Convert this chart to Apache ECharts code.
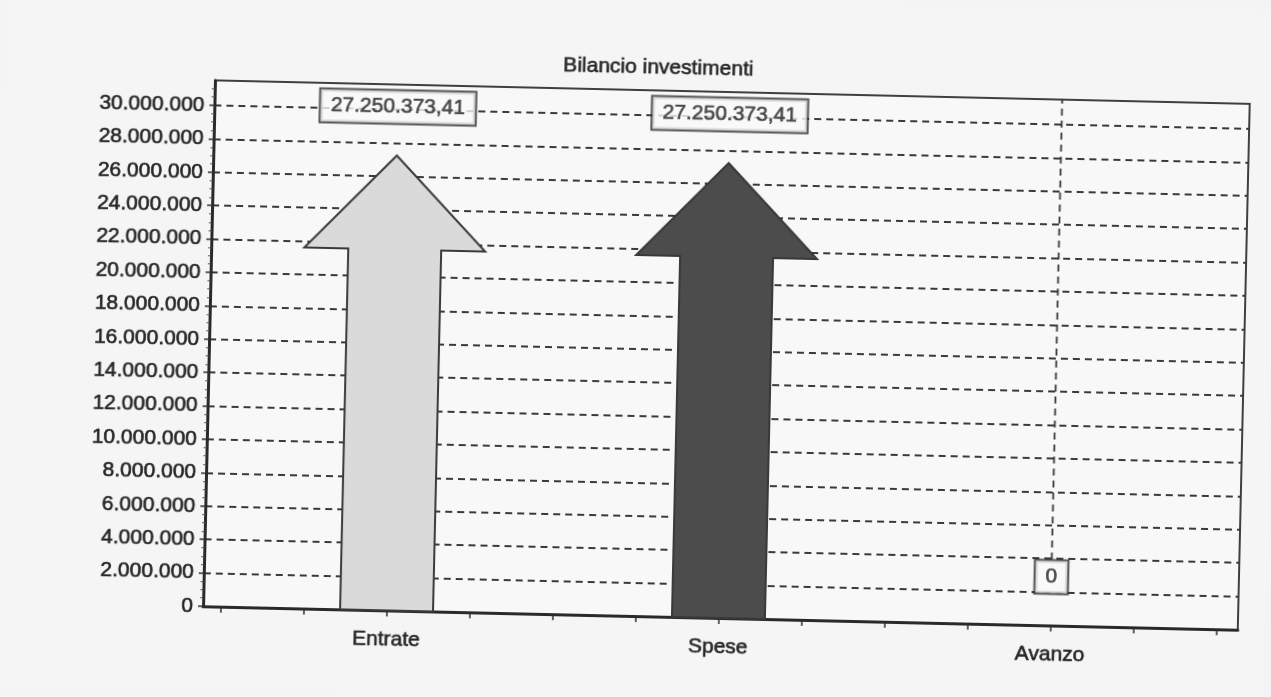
<!DOCTYPE html>
<html>
<head>
<meta charset="utf-8">
<script src="https://cdn.jsdelivr.net/npm/echarts@6/dist/echarts.min.js"></script>
<style>
  html, body { margin: 0; padding: 0; background: #f4f4f4; overflow: hidden; }
  #chart { width: 1271px; height: 697px; transform: rotate(1.3deg); transform-origin: 50% 50%; }
</style>
</head>
<body>
<div id="chart"></div>
<script>
// ---- data ----
const title = 'Bilancio investimenti';
const categories = ['Entrate', 'Spese', 'Avanzo'];
const values = [27250373.41, 27250373.41, 0];
const yTicks = [0, 2000000, 4000000, 6000000, 8000000, 10000000, 12000000, 14000000,
                16000000, 18000000, 20000000, 22000000, 24000000, 26000000, 28000000, 30000000];
const xTicks = [-0.5, -0.25, 0, 0.25, 0.5, 0.75, 1, 1.25, 1.5, 1.75, 2, 2.25, 2.5];
const xLabelPositions = [0, 1, 2];

// ---- styles ----
const arrowFill = ['#dadada', '#4c4c4c', '#9a9a9a'];
const arrowStroke = ['#3a3a3a', '#383838', '#3a3a3a'];
const FONT = '"Liberation Sans", Arial, sans-serif';
const TEXT = '#262626';
const THICK = { textBorderColor: '#262626', textBorderWidth: 0.6 };

function fmtInt(n) {
  return String(Math.round(n)).replace(/\B(?=(\d{3})+(?!\d))/g, '.');
}
function fmtIt(v) {
  const neg = v < 0; v = Math.abs(v);
  const intPart = Math.floor(v);
  const frac = Math.round((v - intPart) * 100);
  let s = fmtInt(intPart);
  if (frac > 0) s += ',' + String(frac).padStart(2, '0');
  return (neg ? '-' : '') + s;
}

const chart = echarts.init(document.getElementById('chart'), null, { renderer: 'canvas' });

function renderArrow(params, api) {
  const i = api.value(0);
  const v = api.value(1);
  const base = api.coord([i, 0]);
  const tip = api.coord([i, v]);
  const unit = api.size([1, 0])[0];
  const cx = base[0];
  const sw = unit * 0.28 / 2;
  const hw = unit * 0.545 / 2;
  if (v <= 0) {
    return {
      type: 'group',
      children: [{
        type: 'line',
        shape: { x1: cx, y1: base[1] - 66, x2: cx, y2: params.coordSys.y },
        style: { stroke: '#3a3a3a', lineWidth: 1.8, lineDash: [7, 5] }
      }]
    };
  }
  const headH = 94;
  const by = tip[1] + headH;
  return {
    type: 'group',
    children: [{
      type: 'polygon',
      shape: {
        points: [
          [cx - sw, base[1]], [cx - sw, by], [cx - hw, by], [cx, tip[1]],
          [cx + hw, by], [cx + sw, by], [cx + sw, base[1]]
        ]
      },
      style: { fill: arrowFill[params.dataIndex], stroke: arrowStroke[params.dataIndex], lineWidth: 2 }
    }]
  };
}

const pointData = values.map((v, i) => [i, v]);

chart.setOption({
  backgroundColor: '#f5f5f5',
  animation: false,
  textStyle: { fontFamily: FONT },
  title: {
    text: title,
    left: 647,
    top: 52,
    textAlign: 'center',
    textStyle: Object.assign({ fontSize: 21, fontWeight: 'normal', color: TEXT, fontFamily: FONT }, THICK)
  },
  grid: {
    left: 209, right: 27, top: 90, bottom: 81,
    show: true, borderColor: '#3f3f3f', borderWidth: 2, backgroundColor: '#f8f8f8'
  },
  xAxis: {
    type: 'value',
    min: -0.553,
    max: 2.565,
    position: 'bottom',
    splitLine: { show: false },
    axisLine: { show: true, onZero: false, lineStyle: { color: '#2a2a2a', width: 3 } },
    axisTick: { show: true, customValues: xTicks, length: 6, lineStyle: { color: '#2e2e2e', width: 1.5 } },
    axisLabel: Object.assign({
      customValues: xLabelPositions,
      formatter: v => categories[Math.round(v)] || '',
      fontSize: 21, color: TEXT, margin: 19, fontFamily: FONT
    }, THICK)
  },
  yAxis: {
    type: 'value',
    min: 0,
    max: 31500000,
    interval: 2000000,
    position: 'left',
    axisLine: { show: true, onZero: false, lineStyle: { color: '#2a2a2a', width: 3 } },
    axisTick: { show: true, customValues: yTicks, length: 5, lineStyle: { color: '#2e2e2e', width: 1.5 } },
    minorTick: { show: true, splitNumber: 4, length: 3, lineStyle: { color: '#555', width: 1 } },
    axisLabel: Object.assign({
      customValues: yTicks,
      formatter: v => fmtInt(v),
      fontSize: 21, color: TEXT, margin: 10, fontFamily: FONT
    }, THICK),
    splitLine: { show: true, lineStyle: { color: '#3a3a3a', width: 1.8, type: [7, 5] } }
  },
  series: [
    {
      type: 'custom',
      renderItem: renderArrow,
      data: pointData,
      encode: { x: 0, y: 1 },
      z: 3
    },
    {
      type: 'scatter',
      data: pointData,
      symbolSize: 1,
      itemStyle: { color: 'rgba(0,0,0,0)' },
      z: 5,
      labelLine: { show: false },
      label: Object.assign({
        show: true,
        position: 'top',
        distance: 32,
        formatter: p => fmtIt(p.value[1]),
        fontSize: 21,
        lineHeight: 24,
        color: TEXT,
        fontFamily: FONT,
        backgroundColor: '#f9f9f9',
        borderColor: '#2e2e2e',
        borderWidth: 2,
        padding: [4, 10]
      }, THICK)
    }
  ]
});
</script>
</body>
</html>
